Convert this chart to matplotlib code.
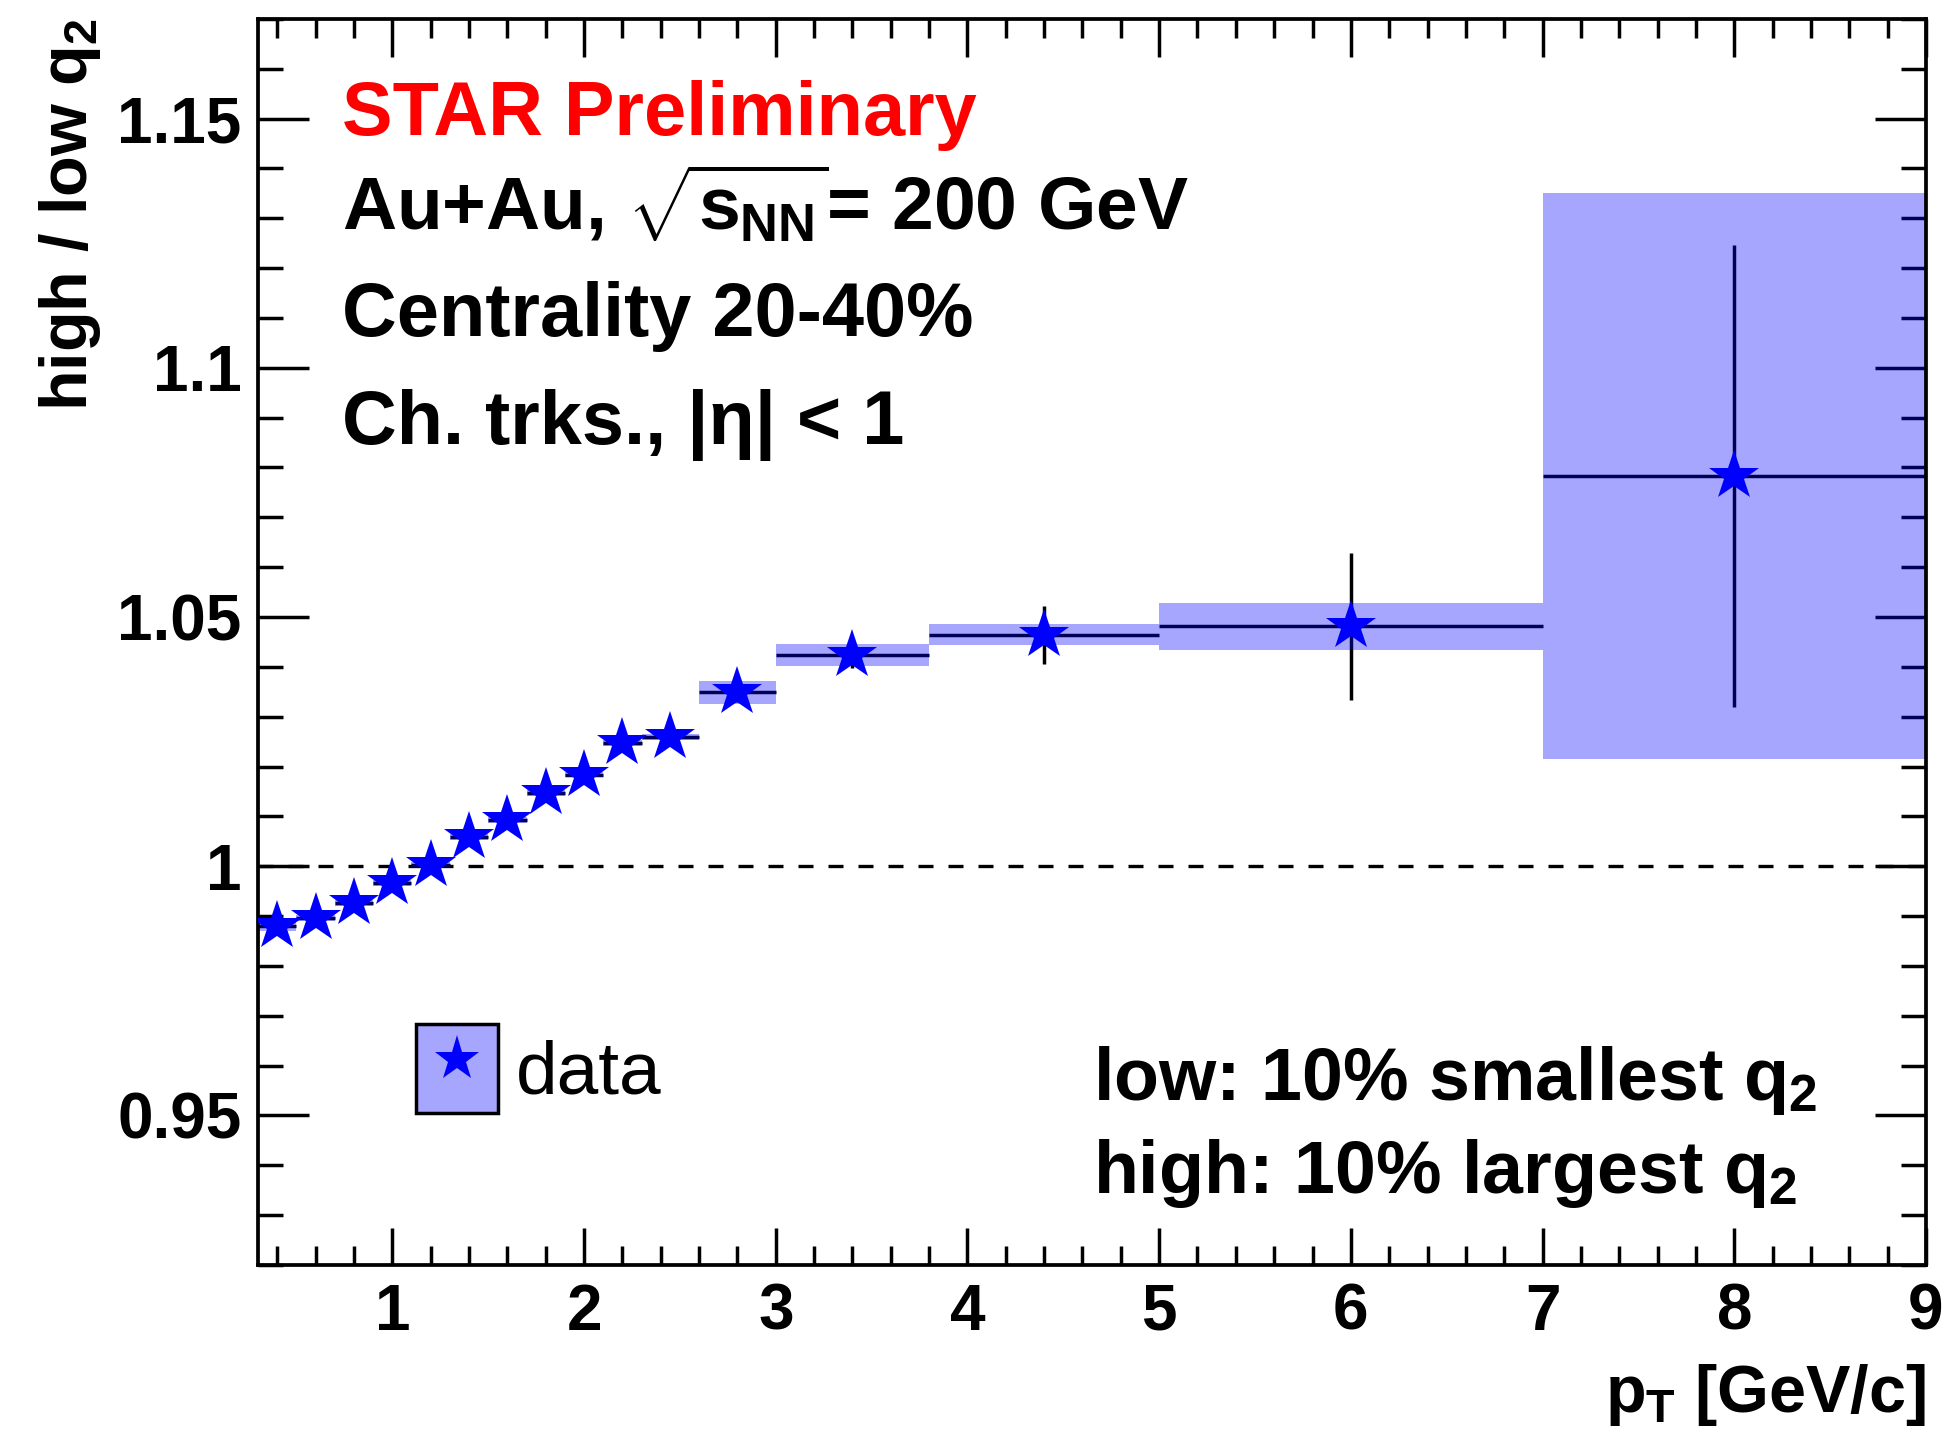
import numpy as np
import matplotlib
matplotlib.use('Agg')
import matplotlib.pyplot as plt
from matplotlib.patches import Patch
from matplotlib.lines import Line2D

plt.rcParams['font.family'] = ['Liberation Sans', 'DejaVu Sans']
plt.rcParams['mathtext.fontset'] = 'custom'
plt.rcParams['mathtext.rm'] = 'Liberation Sans:bold'
plt.rcParams['mathtext.it'] = 'Liberation Sans:bold'
plt.rcParams['mathtext.bf'] = 'Liberation Sans:bold'
plt.rcParams['mathtext.sf'] = 'Liberation Sans:bold'

# pT bins and ratio high/low q2
pt = np.array([0.4, 0.6, 0.8, 1.0, 1.2, 1.4, 1.6, 1.8, 2.0, 2.2, 2.45, 2.8, 3.4, 4.4, 6.0, 8.0])
pt_lo = np.array([0.3, 0.5, 0.7, 0.9, 1.1, 1.3, 1.5, 1.7, 1.9, 2.1, 2.3, 2.6, 3.0, 3.8, 5.0, 7.0])
pt_hi = np.array([0.5, 0.7, 0.9, 1.1, 1.3, 1.5, 1.7, 1.9, 2.1, 2.3, 2.6, 3.0, 3.8, 5.0, 7.0, 9.0])
ratio = np.array([0.9880, 0.9897, 0.9926, 0.9967, 1.0003, 1.0058, 1.0092, 1.0147, 1.0184, 1.0248,
                  1.0260, 1.0349, 1.0424, 1.0464, 1.0481, 1.0783])
stat = np.array([0.0008, 0.0008, 0.0008, 0.0008, 0.0009, 0.0009, 0.0010, 0.0010, 0.0011, 0.0012,
                 0.0013, 0.0020, 0.0027, 0.0059, 0.0147, 0.0464])
sys = np.array([0.0010, 0.0006, 0.0006, 0.0006, 0.0006, 0.0006, 0.0006, 0.0006, 0.0006, 0.0006,
                0.0006, 0.0023, 0.0022, 0.0021, 0.0047, 0.0567])

box_col = (0, 0, 1, 0.35)

fig = plt.figure(figsize=(19.48, 14.44), dpi=100)
ax = fig.add_axes([0.1325, 0.124, 0.8562, 0.8629])

ax.axhline(1.0, color='black', lw=2.4, ls=(0, (4.5, 4.5)), zorder=0)
ax.errorbar(pt, ratio, xerr=[pt - pt_lo, pt_hi - pt], yerr=stat, fmt='none',
            ecolor='black', elinewidth=2.5, capsize=0, zorder=1)
ax.bar(pt_lo, 2 * sys, bottom=ratio - sys, width=pt_hi - pt_lo, align='edge',
       color=box_col, lw=0, zorder=2)
ax.plot(pt, ratio, ls='none', marker='*', color='blue', ms=38, mew=0, zorder=3)

ax.set_xlim(0.3, 9)
ax.set_ylim(0.92, 1.17)
ax.set_xticks(np.arange(1, 10, 1))
ax.set_xticks(np.arange(0.4, 9.01, 0.2), minor=True)
ax.set_yticks([0.95, 1.0, 1.05, 1.1, 1.15])
ax.set_yticklabels(['0.95', '1', '1.05', '1.1', '1.15'])
ax.set_yticks(np.arange(0.92, 1.171, 0.01), minor=True)
ax.tick_params(axis='both', which='both', direction='in', top=True, right=True, width=2.5)
ax.tick_params(axis='x', which='major', length=27, pad=13, labelsize=46)
ax.tick_params(axis='x', which='minor', length=13.5)
ax.tick_params(axis='y', which='major', length=37, pad=12, labelsize=46)
ax.tick_params(axis='y', which='minor', length=18)
for lab in ax.get_xticklabels() + ax.get_yticklabels():
    lab.set_fontweight('bold')
for sp in ax.spines.values():
    sp.set_linewidth(2.7)

ax.set_xlabel(r'$p_{T}$ [GeV/c]', fontsize=48, fontweight='bold', loc='right')
ax.xaxis.set_label_coords(1.0, -0.078)
ax.set_ylabel(r'high / low $q_{2}$', fontsize=48, fontweight='bold', loc='top')
ax.yaxis.set_label_coords(-0.093, 1.0)

tx = 0.05
ax.text(tx, 0.907, 'STAR Preliminary', color='red', fontsize=54.5, fontweight='bold',
        transform=ax.transAxes, va='baseline')
ax.text(tx, 0.8305, r'Au+Au, $\sqrt{s_{NN}}$= 200 GeV', fontsize=54, fontweight='bold',
        transform=ax.transAxes, va='baseline')
ax.text(tx, 0.7458, 'Centrality 20-40%', fontsize=54.5, fontweight='bold',
        transform=ax.transAxes, va='baseline')
ax.text(tx, 0.659, 'Ch. trks., |η| < 1', fontsize=54.5, fontweight='bold',
        transform=ax.transAxes, va='baseline')

ax.text(0.5007, 0.1326, r'low: 10% smallest $q_{2}$', fontsize=53, fontweight='bold',
        transform=ax.transAxes, va='baseline')
ax.text(0.5007, 0.0578, r'high: 10% largest $q_{2}$', fontsize=53, fontweight='bold',
        transform=ax.transAxes, va='baseline')

h_box = Patch(facecolor=box_col, edgecolor='black', lw=2.5)
h_star = Line2D([], [], ls='none', marker='*', color='blue', ms=34, mew=0)
ax.legend([(h_box, h_star)], ['data'], loc='center left', bbox_to_anchor=(0.0946, 0.1575),
          frameon=False, fontsize=54, handlelength=1.1, handleheight=1.45,
          handletextpad=0.23, borderpad=0, borderaxespad=0)

plt.savefig('out.png', dpi=100)
